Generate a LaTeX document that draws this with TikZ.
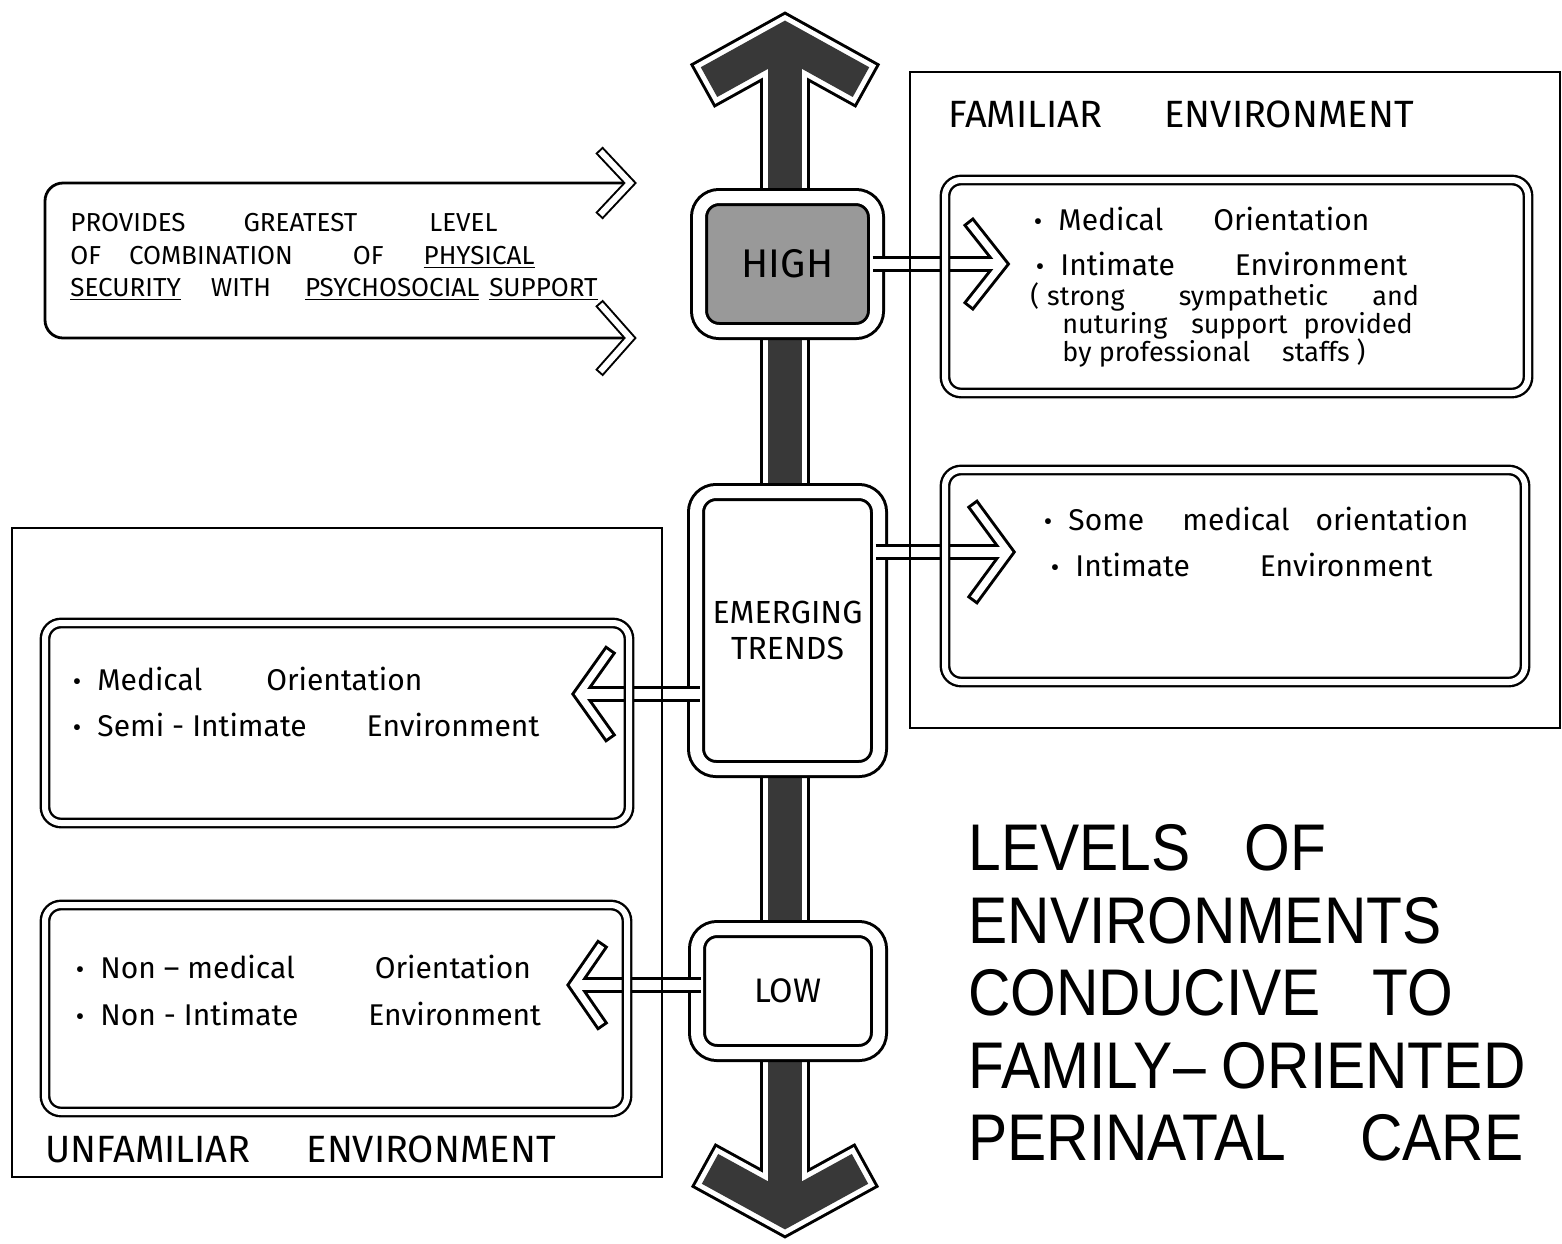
\documentclass[tikz,border=0pt]{standalone}
\usepackage{fontspec}
\setmainfont{Fira Sans}
\newfontfamily\titlefont[FakeStretch=0.89]{Liberation Sans}
\usetikzlibrary{positioning}
\newcommand{\bul}{\llap{{\fontsize{13}{13}\selectfont •}\hspace{8pt}}}

\begin{document}
\begin{tikzpicture}[x=0.5pt, y=-0.5pt,
  envframe/.style={line width=1.3pt},
  level/.style={draw, double, double distance=6pt, line width=1.5pt, rounded corners=10pt, fill=white, inner sep=0pt, align=center},
  panel/.style={draw, double, double distance=3pt, line width=1.2pt, rounded corners=8pt, inner sep=0pt},
  hand/.style={anchor=base west, inner sep=0pt, font=\fontsize{15}{18}\selectfont},
  note/.style={anchor=base west, inner sep=0pt, font=\fontsize{13.5}{15}\selectfont},
  caps/.style={anchor=base west, inner sep=0pt, font=\fontsize{13}{15}\selectfont},
  envname/.style={anchor=base west, inner sep=0pt, font=\fontsize{19}{22}\selectfont},
  heading/.style={anchor=base west, inner sep=0pt, font=\titlefont\fontsize{33}{36}\selectfont},
  stemk/.style={line width=8pt},
  stemw/.style={white, line width=5pt},
  headk/.style={line width=6.5pt, line join=miter},
  headw/.style={white, line width=3.5pt, line join=miter, shorten <=1.5pt, shorten >=1.5pt},
  thinhead/.style={line width=5pt, line join=miter},
  thinheadw/.style={white, line width=3pt, line join=miter, shorten <=1pt, shorten >=1pt},
]
\useasboundingbox (0,0) rectangle (1562,1243);
\fill[white] (0,0) rectangle (1562,1243);

% the level axis
\coordinate (topTip) at (785,40);
\coordinate (botTip) at (785,1210);
\foreach \w/\col/\s in {25pt/black/0pt, 22pt/white/1.5pt, 17pt/black!78/4pt} {
  \draw[line width=\w, \col, line join=miter, shorten <=\s, shorten >=\s] (topTip) ++(-83,46) -- (topTip) -- ++(83,46);
  \draw[line width=\w, \col, line join=miter, shorten <=\s, shorten >=\s] (botTip) ++(-82,-45) -- (botTip) -- ++(82,-45);
  \draw[line width=\w, \col] (topTip) -- (botTip);
}

% levels
\node[level, fill=black!40, minimum width=88.5pt, minimum height=67pt, font=\fontsize{20}{22}\selectfont] (high) at (787.5,264) {HIGH};
\node[level, minimum width=91.5pt, minimum height=138.5pt, font=\fontsize{16}{17}\selectfont] (trend) at (787.5,630.5) {EMERGING\\[1pt]TRENDS};
\node[level, minimum width=91pt, minimum height=62pt, font=\fontsize{17}{19}\selectfont] (low) at (788,991) {LOW};

% hollow arrows out of the levels
\coordinate (hiTip) at (1002,264);
\coordinate (trTip) at (1008,552);
\coordinate (seTip) at (579,694);
\coordinate (loTip) at (574,985);
\foreach \st/\hd in {stemk/headk, stemw/headw} {
  \draw[\st, shorten <=-2.5pt] (high.east) -- (hiTip);
  \draw[\st, shorten <=-2.5pt] (trend.east |- trTip) -- (trTip);
  \draw[\st, shorten <=-2.5pt] (trend.west |- seTip) -- (seTip);
  \draw[\st, shorten <=-2.5pt] (low.west |- loTip) -- (loTip);
  \draw[\hd] (hiTip) ++(-34,-43) -- (hiTip) -- ++(-34,43);
  \draw[\hd] (trTip) ++(-36,-49) -- (trTip) -- ++(-36,49);
  \draw[\hd] (seTip) ++(32,-45) -- (seTip) -- ++(32,45);
  \draw[\hd] (loTip) ++(29,-42) -- (loTip) -- ++(29,42);
}

% environments
\draw[envframe] (910,72) rectangle (1560,728);
\draw[envframe] (12,528) rectangle (662,1177);
\node[envname] (famname) at (948,127) {FAMILIAR\hspace{31pt}ENVIRONMENT};
\node[envname] (unfname) at (45,1162) {UNFAMILIAR\hspace{28pt}ENVIRONMENT};

\node[panel, minimum width=291.5pt, minimum height=106.5pt] (medbox) at (1236.5,286.5) {};
\node[hand] (med1) at (1058,230) {\bul Medical\hspace{25pt}Orientation};
\node[hand] (med2) at (1060,275) {\bul Intimate\hspace{30pt}Environment};
\node[note] (med3) at (1030,305) {(\hspace{4pt}strong\hspace{27pt}sympathetic\hspace{22pt}and};
\node[note] (med4) at (1062,333) {nuturing\hspace{12pt}support\hspace{8pt}provided};
\node[note] (med5) at (1062,361) {by professional\hspace{16pt}staffs )};

\node[panel, minimum width=290pt, minimum height=106pt] (somebox) at (1235,576) {};
\node[hand] (some1) at (1068,530) {\bul Some\hspace{19pt}medical\hspace{13pt}orientation};
\node[hand] (some2) at (1075,576) {\bul Intimate\hspace{35pt}Environment};

\node[panel, minimum width=292pt, minimum height=100pt] (semibox) at (337,723) {};
\node[hand] (semi1) at (97,690) {\bul Medical\hspace{32pt}Orientation};
\node[hand] (semi2) at (97,736) {\bul Semi - Intimate\hspace{30pt}Environment};

\node[panel, minimum width=291pt, minimum height=103.5pt] (nonbox) at (336,1008.5) {};
\node[hand] (non1) at (100,978) {\bul Non -- medical\hspace{40pt}Orientation};
\node[hand] (non2) at (100,1025) {\bul Non - Intimate\hspace{35pt}Environment};

% open box on the upper left
\coordinate (provUp) at (630,183);
\coordinate (provDn) at (630,338);
\draw[line width=1.4pt, rounded corners=9pt] (provUp) -- (45,183) -- (45,338) -- (provDn);
\foreach \hd in {thinhead, thinheadw} {
  \draw[\hd] (provUp) ++(-31,-33) -- (provUp) -- ++(-31,33);
  \draw[\hd] (provDn) ++(-31,-35) -- (provDn) -- ++(-31,35);
}
\node[caps] (prov1) at (70,231) {PROVIDES\hspace{29pt}GREATEST\hspace{36pt}LEVEL};
\node[caps] (prov2) at (70,264) {OF\hspace{14pt}COMBINATION\hspace{30pt}OF\hspace{20pt}\underline{PHYSICAL}};
\node[caps] (prov3) at (70,296) {\underline{SECURITY}\hspace{15pt}WITH\hspace{17pt}\underline{PSYCHOSOCIAL}\hspace{5pt}\underline{SUPPORT}};

% title
\node[heading] (head1) at (968,870) {LEVELS\hspace{27pt}OF};
\node[heading] (head2) at (968,943) {ENVIRONMENTS};
\node[heading] (head3) at (968,1015) {CONDUCIVE\hspace{26pt}TO};
\node[heading] (head4) at (968,1088) {FAMILY– ORIENTED};
\node[heading] (head5) at (968,1160) {PERINATAL\hspace{37pt}CARE};
\end{tikzpicture}
\end{document}
